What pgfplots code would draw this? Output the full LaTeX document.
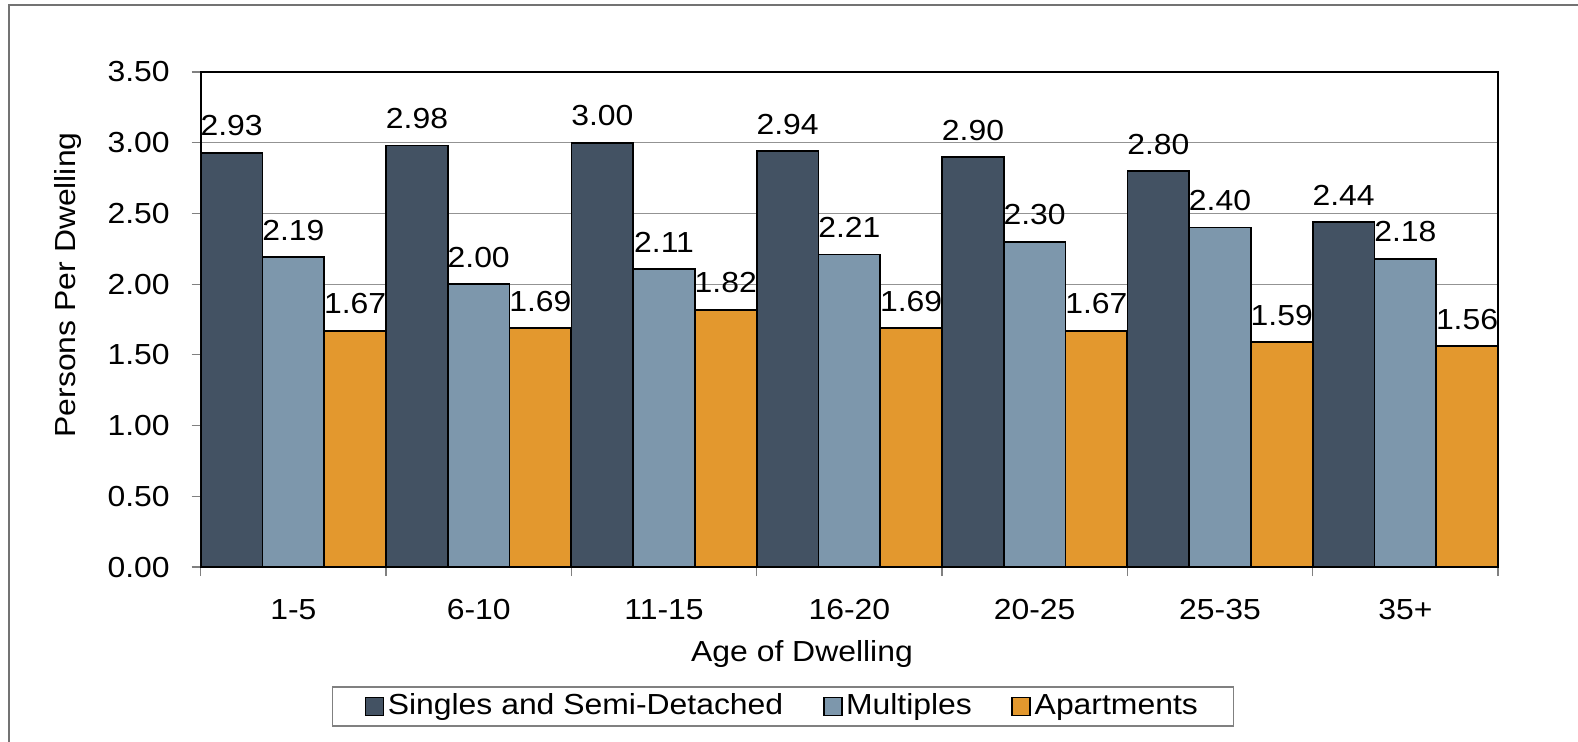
\documentclass[border=0pt]{standalone}
\usepackage{pgfplots}
\pgfplotsset{compat=1.18}
\usepackage{fontspec}
\setmainfont{Liberation Sans}[FakeStretch=1.1]
\definecolor{cDark}{HTML}{435263}
\definecolor{cLight}{HTML}{7D97AC}
\definecolor{cOrange}{HTML}{E3982E}
\begin{document}
\fontsize{14.5pt}{17pt}\selectfont
\begin{tikzpicture}
\useasboundingbox (0,0) rectangle (789pt,-370.5pt);
\draw[gray!90!black, line width=0.6pt] (4.5pt,-372pt) -- (4.5pt,-2.5pt) -- (792pt,-2.5pt);
\begin{axis}[
  at={(100.35pt,-283.5pt)}, anchor=south west,
  scale only axis, width=648.65pt, height=247.5pt,
  ybar=0pt, bar width=30.85pt,
  xmin=-0.5, xmax=6.5, ymin=0, ymax=3.5,
  ytick={0,0.5,...,3.5},
  xtick={-0.5,0.5,...,6.5}, xticklabels={},
  extra x ticks={0,1,2,3,4,5,6},
  extra x tick labels={1-5,6-10,11-15,16-20,20-25,25-35,35+},
  extra x tick style={major tick length=0pt, grid=none, xticklabel style={yshift=-11pt}},
  tick align=outside, tick pos=left,
  major tick length=4.5pt,
  tick style={gray, line width=0.6pt},
  axis line style={black, line width=1pt},
  ymajorgrids, grid style={gray!85, line width=0.6pt},
  /pgf/number format/.cd, fixed, fixed zerofill, precision=2, assume math mode=true,
  /pgfplots/.cd,
  yticklabel style={xshift=-6pt},
  nodes near coords,
  nodes near coords style={black, yshift=3pt},
  every node near coord/.append style={/pgf/number format/fixed, /pgf/number format/fixed zerofill, /pgf/number format/precision=2},
  xlabel={Age of Dwelling},
  ylabel={Persons Per Dwelling},
  xlabel style={at={(axis description cs:0.4635,-0.1758)}, anchor=center},
  ylabel style={at={(axis description cs:-0.1023,0.570)}, anchor=center},
  legend style={at={(0.4488,-0.2818)}, anchor=center, draw=gray, line width=0.8pt,
    legend columns=-1, /tikz/every even column/.append style={column sep=18pt},
    nodes={inner xsep=1.75pt},
    inner xsep=16pt, inner ysep=1.5pt},
  legend image code/.code={\draw[#1, draw=black, line width=0.9pt] (0pt,-4.5pt) rectangle (9pt,4.5pt);},
]
\addplot[fill=cDark, draw=black, line width=0.9pt] coordinates {(0,2.93) (1,2.98) (2,3.00) (3,2.94) (4,2.90) (5,2.80) (6,2.44)};
\addplot[fill=cLight, draw=black, line width=0.9pt] coordinates {(0,2.19) (1,2.00) (2,2.11) (3,2.21) (4,2.30) (5,2.40) (6,2.18)};
\addplot[fill=cOrange, draw=black, line width=0.9pt] coordinates {(0,1.67) (1,1.69) (2,1.82) (3,1.69) (4,1.67) (5,1.59) (6,1.56)};
\legend{Singles and Semi-Detached,Multiples,Apartments}
\end{axis}
\end{tikzpicture}
\end{document}
